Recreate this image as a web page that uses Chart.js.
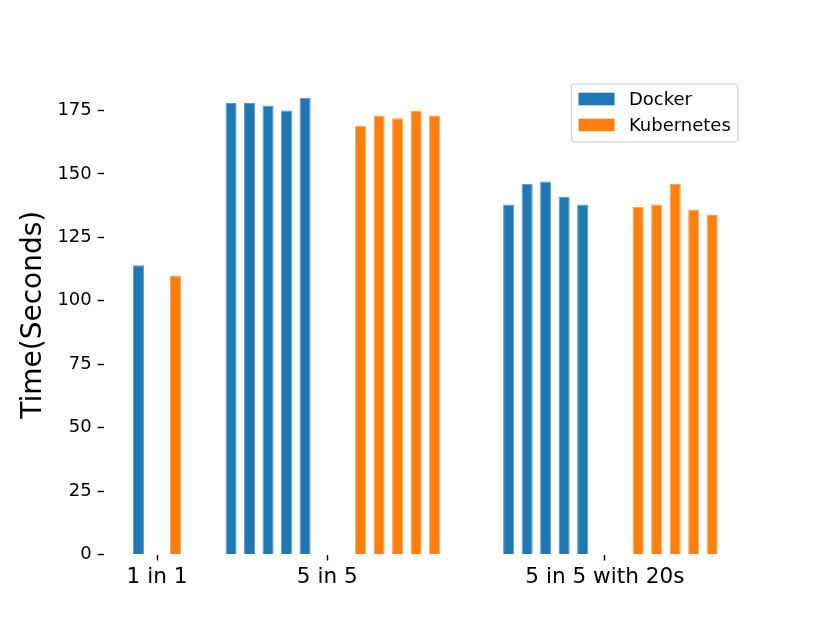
<!DOCTYPE html>
<html>
<head>
<meta charset="utf-8">
<script src="https://cdn.jsdelivr.net/npm/chart.js@4/dist/chart.umd.min.js"></script>
<style>
  html, body { margin: 0; padding: 0; background: #fff; }
  #wrap { width: 830px; height: 623px; }
</style>
</head>
<body>
<div id="wrap"><canvas id="timeChart" width="830" height="623"></canvas></div>
<script>
// Scenario names and where their tick sits on the x axis
const categories = ['1 in 1', '5 in 5', '5 in 5 with 20s'];
const tickPositions = [1, 10.2, 25.2];

// Bar slots (x in data units) and measured times in seconds
const dockerX = [0, 5, 6, 7, 8, 9, 20, 21, 22, 23, 24];
const dockerTimes = [114, 178, 178, 177, 175, 180, 138, 146, 147, 141, 138];
const kubeX = [2, 12, 13, 14, 15, 16, 27, 28, 29, 30, 31];
const kubeTimes = [110, 169, 173, 172, 175, 173, 137, 138, 146, 136, 134];

const yTicks = [0, 25, 50, 75, 100, 125, 150, 175];

const FONT = "'DejaVu Sans', 'Liberation Sans', sans-serif";
Chart.defaults.font.family = FONT;
Chart.defaults.color = '#000';

function toPoints(xs, ys) {
    return xs.map((x, i) => ({ x: x, y: ys[i] }));
}

// matplotlib-like legend box inside the plot, upper right
const boxLegend = {
    id: 'boxLegend',
    afterDraw(chart) {
        const ctx = chart.ctx;
        const area = chart.chartArea;
        const fs = 18;
        ctx.save();
        ctx.font = fs + 'px ' + FONT;
        const items = chart.data.datasets;
        let textW = 0;
        items.forEach(d => { textW = Math.max(textW, ctx.measureText(d.label).width); });
        const pad = 7.2, handle = 36, gap = 14.4, rowH = 26;
        const w = pad + handle + gap + textW + pad;
        const h = 58;
        const x0 = area.right - 9 - w;
        const y0 = area.top + 9;
        ctx.beginPath();
        ctx.roundRect(x0, y0, w, h, 4);
        ctx.fillStyle = 'rgba(255,255,255,0.8)';
        ctx.fill();
        ctx.strokeStyle = '#cccccc';
        ctx.lineWidth = 1.2;
        ctx.stroke();
        items.forEach((d, i) => {
            const cy = y0 + 15 + i * rowH;
            ctx.fillStyle = d.backgroundColor;
            ctx.fillRect(x0 + pad, cy - 6.3, handle, 12.6);
            ctx.fillStyle = '#000';
            ctx.textBaseline = 'middle';
            ctx.fillText(d.label, x0 + pad + handle + gap, cy + 1);
        });
        ctx.restore();
    }
};

const ctx = document.getElementById('timeChart').getContext('2d');
const timeChart = new Chart(ctx, {
    type: 'bar',
    data: {
        datasets: [{
            label: 'Docker',
            data: toPoints(dockerX, dockerTimes),
            backgroundColor: '#1f77b4',
            borderColor: '#5e9ccb',
            borderWidth: 1
        }, {
            label: 'Kubernetes',
            data: toPoints(kubeX, kubeTimes),
            backgroundColor: '#ff7f0e',
            borderColor: '#ffa65c',
            borderWidth: 1
        }]
    },
    plugins: [boxLegend],
    options: {
        responsive: false,
        animation: false,
        devicePixelRatio: 1,
        grouped: false,
        barPercentage: 0.6,
        categoryPercentage: 1,
        layout: { padding: { top: 75, right: 83, bottom: 0, left: 0 } },
        scales: {
            x: {
                type: 'linear',
                offset: false,
                min: -1.88,
                max: 32.88,
                afterBuildTicks: function(scale) {
                    scale.ticks = tickPositions.map(v => ({ value: v }));
                },
                afterFit: function(scale) {
                    scale.height = 68.5;
                },
                ticks: {
                    font: { size: 21.6 },
                    padding: 4,
                    maxRotation: 0,
                    autoSkip: false,
                    callback: function(value) {
                        const i = tickPositions.indexOf(value);
                        return i >= 0 ? categories[i] : '';
                    }
                },
                grid: {
                    offset: false,
                    drawOnChartArea: false,
                    tickLength: 6,
                    tickColor: '#000',
                    tickWidth: 1.4
                },
                border: { display: false }
            },
            y: {
                min: 0,
                max: 189,
                afterBuildTicks: function(scale) {
                    scale.ticks = yTicks.map(v => ({ value: v }));
                },
                afterFit: function(scale) {
                    scale.width = 103.75;
                },
                ticks: {
                    font: { size: 18 },
                    padding: 6
                },
                grid: {
                    drawOnChartArea: false,
                    tickLength: 6,
                    tickColor: '#000',
                    tickWidth: 1.4
                },
                border: { display: false },
                title: {
                    display: true,
                    text: 'Time(Seconds)',
                    font: { size: 28 },
                    padding: { top: 17, bottom: 0 }
                }
            }
        },
        plugins: {
            legend: { display: false },
            tooltip: { enabled: false }
        }
    }
});
</script>
</body>
</html>
